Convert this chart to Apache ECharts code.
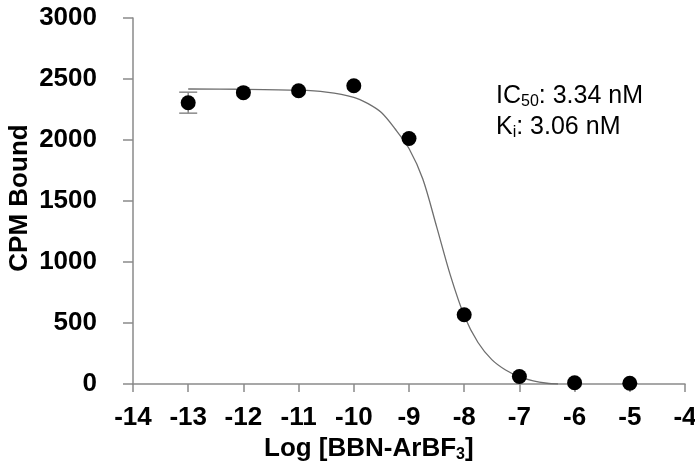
<!DOCTYPE html>
<html>
<head>
<meta charset="utf-8">
<script src="https://cdn.jsdelivr.net/npm/echarts@6/dist/echarts.min.js"></script>
<style>
  html, body { margin: 0; padding: 0; background: #fff; }
  #chart { width: 695px; height: 470px; }
</style>
</head>
<body>
<div id="chart"></div>
<script>
// measured points: log concentration vs CPM bound
var logConc = [-13, -12, -11, -10, -9, -8, -7, -6, -5];
var cpmBound = [2305, 2388, 2404, 2445, 2012, 568, 62, 10, 6];
// error bar on the first point only (others hidden by markers)
var errLow = [2220];
var errHigh = [2392];
var errX = [-13];

// fitted curve
var fitX = [-13, -12, -11, -10.5, -10, -9.75, -9.5, -9.25, -9, -8.75, -8.5, -8.25, -8, -7.75, -7.5, -7.25, -7, -6.75, -6.5, -6.3];
var fitY = [2418, 2416, 2408, 2392, 2350, 2300, 2225, 2090, 1930, 1680, 1290, 890, 560, 340, 200, 115, 60, 25, 6, 0];

var yTicks = [0, 500, 1000, 1500, 2000, 2500, 3000];

var myChart = echarts.init(document.getElementById('chart'));

var scatterData = logConc.map(function (x, i) { return [x, cpmBound[i]]; });
var fitData = fitX.map(function (x, i) { return [x, fitY[i]]; });
var errData = errX.map(function (x, i) { return [x, errLow[i], errHigh[i]]; });

var axisColor = '#8a8a8a';
var fontFam = 'Liberation Sans, Arial, sans-serif';
var labelFont = { color: '#000', fontSize: 26, fontWeight: 'bold', fontFamily: fontFam };

var option = {
  animation: false,
  grid: { left: 133, right: 10, top: 18, bottom: 86, containLabel: false, outerBoundsMode: 'none' },
  xAxis: {
    type: 'value',
    min: -14,
    max: -4,
    interval: 1,
    splitLine: { show: false },
    axisLine: { lineStyle: { color: axisColor, width: 1.5 } },
    axisTick: { show: true, length: 8, inside: false, lineStyle: { color: axisColor, width: 1.5 } },
    axisLabel: Object.assign({ margin: 21, formatter: function (v) { return String(v); } }, labelFont)
  },
  yAxis: {
    type: 'value',
    min: yTicks[0],
    max: yTicks[yTicks.length - 1],
    interval: 500,
    splitLine: { show: false },
    axisLine: { show: true, lineStyle: { color: axisColor, width: 1.5 } },
    axisTick: { show: true, length: 10, lineStyle: { color: axisColor, width: 1.5 } },
    axisLabel: Object.assign({ margin: 36, formatter: function (v) { return String(v); } }, labelFont)
  },
  graphic: [
    {
      type: 'text',
      x: 20,
      y: 198,
      rotation: Math.PI / 2,
      style: {
        text: 'CPM Bound',
        align: 'center',
        verticalAlign: 'middle',
        fontSize: 26,
        fontWeight: 'bold',
        fontFamily: fontFam,
        fill: '#000'
      }
    },
    {
      type: 'text',
      left: 264,
      top: 436,
      style: {
        text: '{a|Log [BBN-ArBF}{s|3}{a|]}',
        rich: {
          a: { fontSize: 26, fontWeight: 'bold', fontFamily: fontFam, fill: '#000' },
          s: { fontSize: 16, fontWeight: 'bold', fontFamily: fontFam, fill: '#000', padding: [12, 0, 0, 0] }
        }
      }
    },
    {
      type: 'text',
      left: 496,
      top: 82,
      style: {
        text: '{a|IC}{s|50}{a|: 3.34 nM}\n{a|K}{s|i}{a|: 3.06 nM}',
        rich: {
          a: { fontSize: 25, fontFamily: fontFam, fill: '#000', lineHeight: 31 },
          s: { fontSize: 16, fontFamily: fontFam, fill: '#000', padding: [12, 0, 0, 0], lineHeight: 31 }
        }
      }
    }
  ],
  series: [
    {
      name: 'fit',
      type: 'line',
      data: fitData,
      smooth: 0.3,
      showSymbol: false,
      lineStyle: { color: '#6e6e6e', width: 1.3 },
      z: 2
    },
    {
      name: 'error',
      type: 'custom',
      data: errData,
      renderItem: function (params, api) {
        var x = api.value(0);
        var lo = api.coord([x, api.value(1)]);
        var hi = api.coord([x, api.value(2)]);
        var half = 9;
        var st = { stroke: '#8a8a8a', lineWidth: 1.5 };
        return {
          type: 'group',
          children: [
            { type: 'line', shape: { x1: lo[0], y1: lo[1], x2: hi[0], y2: hi[1] }, style: st },
            { type: 'line', shape: { x1: lo[0] - half, y1: lo[1], x2: lo[0] + half, y2: lo[1] }, style: st },
            { type: 'line', shape: { x1: hi[0] - half, y1: hi[1], x2: hi[0] + half, y2: hi[1] }, style: st }
          ]
        };
      },
      z: 3
    },
    {
      name: 'data',
      type: 'scatter',
      data: scatterData,
      symbolSize: 15,
      itemStyle: { color: '#000', opacity: 1 },
      z: 4
    }
  ]
};

myChart.setOption(option);
window.addEventListener('resize', function () { myChart.resize(); });
</script>
</body>
</html>
